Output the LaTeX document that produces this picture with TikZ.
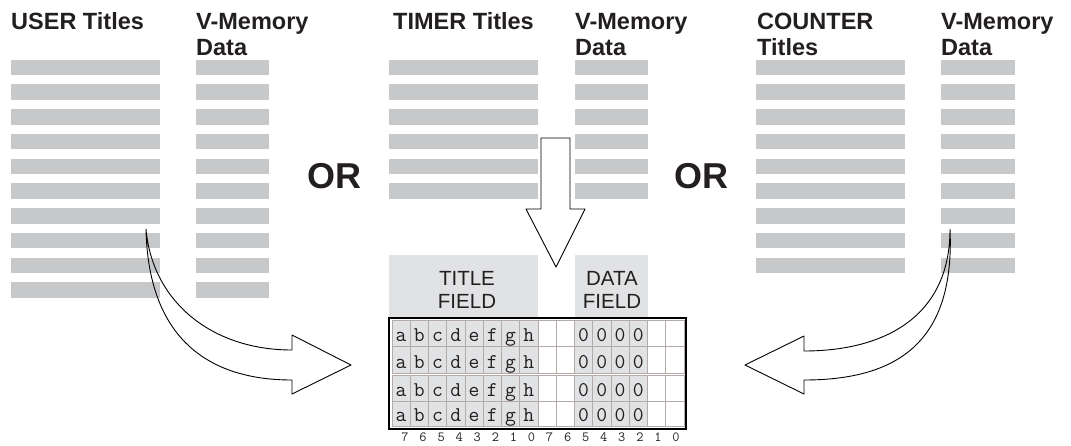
\documentclass[tikz,border=0pt]{standalone}
\usepackage{fontspec}
\setmainfont{Liberation Sans}
\definecolor{bar}{RGB}{199,200,202}
\definecolor{field}{RGB}{225,226,228}
\definecolor{cellline}{RGB}{180,170,168}
\definecolor{ink}{RGB}{35,31,32}
\begin{document}
\begin{tikzpicture}[x=1pt,y=-1pt,
  hdr/.style={font=\fontsize{23.5}{26}\selectfont\bfseries, text=ink, anchor=base west, inner sep=0},
  orlbl/.style={font=\fontsize{36}{40}\selectfont\bfseries, text=ink, inner sep=0},
  fld/.style={font=\fontsize{20.5}{23}\selectfont, text=ink, anchor=base, inner sep=0},
  chr/.style={font=\fontsize{21}{21}\selectfont\ttfamily, text=ink, anchor=base, inner sep=0},
  bit/.style={font=\fontsize{14}{14}\selectfont\ttfamily, text=ink, anchor=base, inner sep=0},
  barfill/.style={fill=bar, draw=none},
  cellbox/.style={draw=cellline, line width=0.8pt},
  blockarrow/.style={draw=black, line width=0.9pt, line join=round}
]
\useasboundingbox (0,0) rectangle (1071,445);

% headers
\node[hdr] (h1) at (11,29) {USER Titles};
\node[hdr] (h2) at (196,29) {V-Memory};
\node[hdr] (h2b) at (196,55) {Data};
\node[hdr] (h3) at (393,29) {TIMER Titles};
\node[hdr] (h4) at (575,29) {V-Memory};
\node[hdr] (h4b) at (575,55) {Data};
\node[hdr] (h5) at (757,29) {COUNTER};
\node[hdr] (h5b) at (757,55) {Titles};
\node[hdr] (h6) at (941,29) {V-Memory};
\node[hdr] (h6b) at (941,55) {Data};

% bars
\foreach \k in {0,...,9} {
  \fill[bar] (11,{59.5+24.75*\k}) rectangle (160,{75+24.75*\k});
  \fill[bar] (196,{59.5+24.75*\k}) rectangle (269,{75+24.75*\k});
}
\foreach \k in {0,...,5} {
  \fill[bar] (389,{59.5+24.75*\k}) rectangle (538,{75+24.75*\k});
  \fill[bar] (575,{59.5+24.75*\k}) rectangle (648,{75+24.75*\k});
}
\foreach \k in {0,...,8} {
  \fill[bar] (756,{59.5+24.75*\k}) rectangle (905,{75+24.75*\k});
  \fill[bar] (941,{59.5+24.75*\k}) rectangle (1015,{75+24.75*\k});
}

% OR labels
\node[orlbl] (or1) at (334,176) {OR};
\node[orlbl] (or2) at (701,176) {OR};

% field backgrounds
\fill[field] (389,255) rectangle (538,318);
\fill[field] (575,255) rectangle (648,318);
\node[fld] (t1) at (467,285) {TITLE};
\node[fld] (t2) at (467,308) {FIELD};
\node[fld] (d1) at (612,285) {DATA};
\node[fld] (d2) at (612,308) {FIELD};

% grid cells
\foreach \ya/\yb [count=\r] in {320/346,346/373,375/401,401/426} {
  \foreach \j in {0,...,15} {
    \pgfmathsetmacro{\xa}{392+18.25*\j}
    \pgfmathsetmacro{\xb}{392+18.25*(\j+1)}
    \ifnum\j<8 \def\cf{field}\else\ifnum\j>9 \ifnum\j<14 \def\cf{field}\else\def\cf{white}\fi\else\def\cf{white}\fi\fi
    \filldraw[cellbox, fill=\cf] (\xa,\ya) rectangle (\xb,\yb);
  }
  \foreach \c [count=\j from 0] in {a,b,c,d,e,f,g,h} {
    \node[chr] (c\r\j) at ({392+18.25*\j+9.1},\yb-5) {\c};
  }
  \foreach \j in {10,...,13} {
    \node[chr] (z\r\j) at ({392+18.25*\j+9.1},\yb-5) {0};
  }
}
\draw[black, line width=1.2pt] (389,318) rectangle (686,429);

% bit numbers
\foreach \b [count=\i from 0] in {7,6,5,4,3,2,1,0,7,6,5,4,3,2,1,0} {
  \node[bit] (b\i) at ({405+18.07*\i},441.5) {\b};
}

% down arrow
\coordinate (da1) at (541,138);
\coordinate (da2) at (570,138);
\coordinate (da3) at (570,209);
\coordinate (da4) at (585,209);
\coordinate (datip) at (556,267);
\coordinate (da5) at (526,209);
\coordinate (da6) at (541,209);
\filldraw[blockarrow, fill=white] (da1) -- (da2) -- (da3) -- (da4) -- (datip) -- (da5) -- (da6) -- cycle;

% left curved arrow
\coordinate (ls) at (146,229);
\coordinate (l1) at (292,350);
\coordinate (l2) at (292,335);
\coordinate (ltip) at (351,365);
\coordinate (l3) at (292,394);
\coordinate (l4) at (292,380);
\draw[blockarrow] (ls) .. controls (152,300) and (210,350) .. (l1) -- (l2) -- (ltip) -- (l3) -- (l4) .. controls (200,380) and (148,330) .. (ls);

% right curved arrow
\coordinate (rs) at (950,229);
\coordinate (r1) at (804,351);
\coordinate (r2) at (804,336);
\coordinate (rtip) at (745,365);
\coordinate (r3) at (804,394);
\coordinate (r4) at (804,380);
\draw[blockarrow] (rs) .. controls (950,320) and (880,351) .. (r1) -- (r2) -- (rtip) -- (r3) -- (r4) .. controls (900,380) and (955,340) .. (rs);
\end{tikzpicture}
\end{document}
